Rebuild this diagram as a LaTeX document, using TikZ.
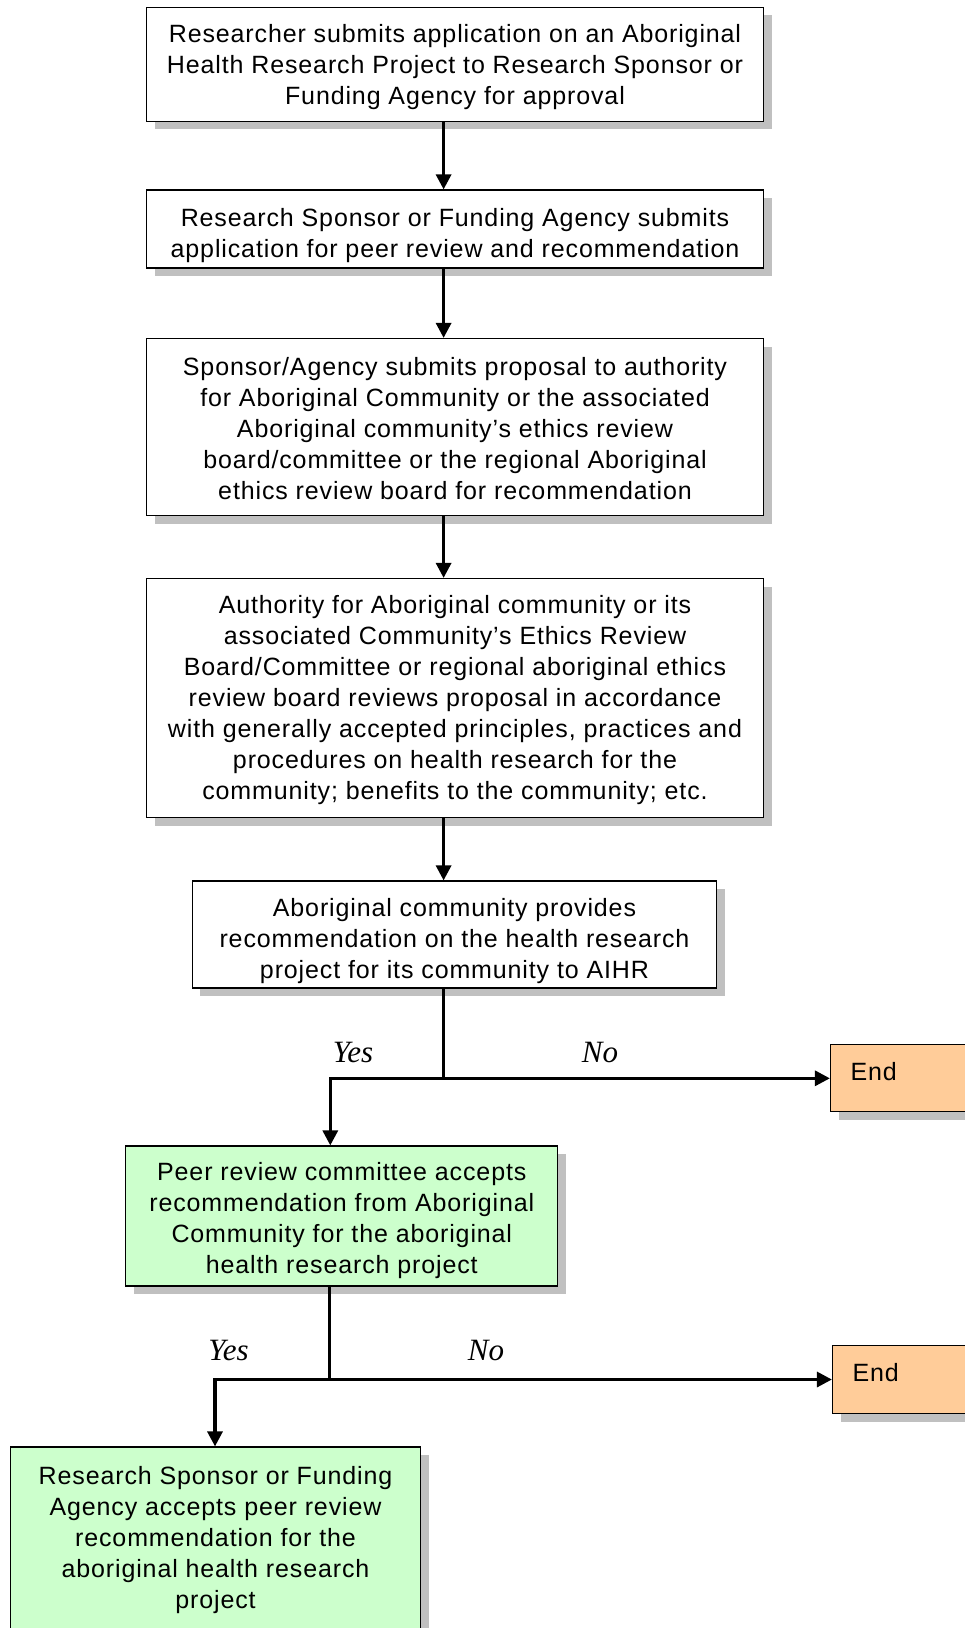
\documentclass[tikz,border=0pt]{standalone}
\usepackage{fontspec}
\setmainfont{Liberation Sans}[LetterSpace=3.5]
\newfontfamily\yesnofont{Liberation Serif}
\usetikzlibrary{arrows.meta,shadows}
\definecolor{shadowgray}{HTML}{C0C0C0}
\definecolor{greenfill}{HTML}{CCFFCC}
\definecolor{orangefill}{HTML}{FFCC99}
\newcommand{\topstrut}[1]{\rule{0pt}{#1}}
\tikzset{
  box/.style={draw=black, line width=1.2pt, fill=white, align=center, inner sep=0pt,
    font={\fontsize{25}{31}\selectfont},
    drop shadow={shadow xshift=8pt, shadow yshift=-8pt, opacity=1, fill=shadowgray}},
  greenbox/.style={box, fill=greenfill},
  endbox/.style={box, fill=orangefill, align=left, text width=130pt, inner xsep=20pt, text depth=14pt},
  conn/.style={line width=3.2pt, line join=miter},
  arr/.style={conn, -{Triangle[length=15pt,width=15pt]}},
  yn/.style={font={\yesnofont\itshape\fontsize{31}{36}\selectfont}, inner sep=0pt}
}
\begin{document}
\begin{tikzpicture}[x=1pt,y=-1pt]
\useasboundingbox (0,0) rectangle (964,1628);
\fill[white] (0,0) rectangle (964,1628);

\node[box, minimum width=617pt, minimum height=114pt] (b1) at (455,64.4)
  {\topstrut{23.5pt}Researcher submits application on an Aboriginal\\Health Research Project to Research Sponsor or\\Funding Agency for approval};
\node[box, minimum width=617pt, minimum height=78pt] (b2) at (455,229)
  {\topstrut{30.5pt}Research Sponsor or Funding Agency submits\\application for peer review and recommendation};
\node[box, minimum width=617pt, minimum height=177pt] (b3) at (455,427)
  {\topstrut{20.5pt}Sponsor/Agency submits proposal to authority\\for Aboriginal Community or the associated\\Aboriginal community’s ethics review\\board/committee or the regional Aboriginal\\ethics review board for recommendation};
\node[box, minimum width=617pt, minimum height=239pt] (b4) at (455,698)
  {\topstrut{22.5pt}Authority for Aboriginal community or its\\associated Community’s Ethics Review\\Board/Committee or regional aboriginal ethics\\review board reviews proposal in accordance\\with generally accepted principles, practices and\\procedures on health research for the\\community; benefits to the community; etc.};
\node[box, minimum width=524.6pt, minimum height=107pt] (b5) at (454.5,934.5)
  {\topstrut{30.5pt}Aboriginal community provides\\recommendation on the health research\\project for its community to AIHR};
\node[greenbox, minimum width=432pt, minimum height=140pt] (b6) at (341.8,1216)
  {\topstrut{26.5pt}Peer review committee accepts\\recommendation from Aboriginal\\Community for the aboriginal\\health research project};
\node[greenbox, minimum width=410pt, minimum height=183pt] (b7) at (215.5,1538.5)
  {\topstrut{20.5pt}Research Sponsor or Funding\\Agency accepts peer review\\recommendation for the\\aboriginal health research\\project};
\node[endbox, minimum height=67pt] (e1) at (915.5,1078.3) {End};
\node[endbox, minimum height=68pt] (e2) at (917.5,1379.5) {End};

\coordinate (ax) at (443.6,0);
\coordinate (j1) at (443.6,1078.3);
\coordinate (l1) at (330.3,1078.3);
\coordinate (j2) at (329.3,1379.5);
\coordinate (l2) at (215,1379.5);

\draw[arr] (b1.south -| ax) -- (b2.north -| ax);
\draw[arr] (b2.south -| ax) -- (b3.north -| ax);
\draw[arr] (b3.south -| ax) -- (b4.north -| ax);
\draw[arr] (b4.south -| ax) -- (b5.north -| ax);
\draw[conn] (b5.south -| ax) -- (j1);
\draw[arr] (j1) -- (e1.west);
\draw[arr] (j1) -- (l1) -- (b6.north -| l1);
\draw[conn] (b6.south -| j2) -- (j2);
\draw[arr] (j2) -- (e2.west);
\draw[arr] (j2) -- (l2) -- (b7.north -| l2);

\node[yn] (y1) at (353,1052) {Yes};
\node[yn] (n1) at (600,1052) {No};
\node[yn] (y2) at (228.5,1350.5) {Yes};
\node[yn] (n2) at (486,1350.5) {No};
\end{tikzpicture}
\end{document}
